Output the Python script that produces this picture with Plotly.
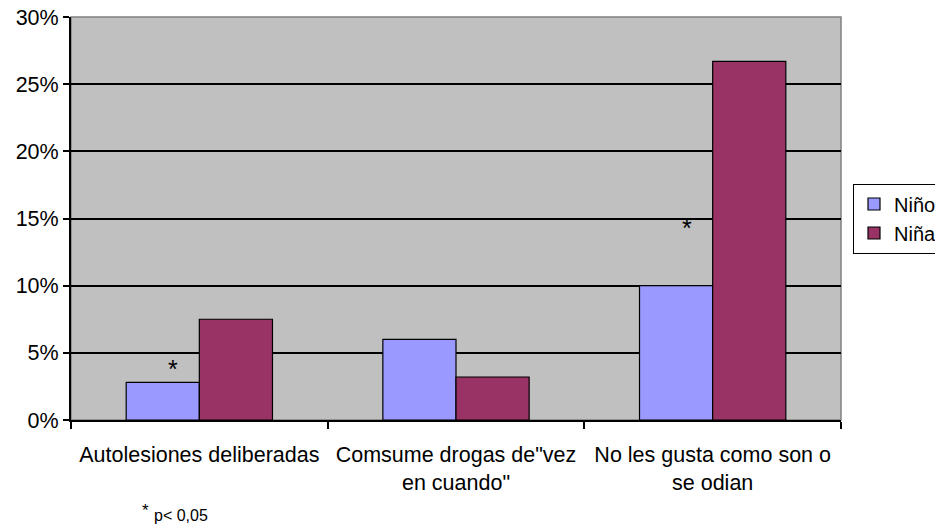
import plotly.graph_objects as go

categories = ["Autolesiones deliberadas", "Comsume drogas de\"vez<br>en cuando\"", "No les gusta como son o<br>se odian"]
nino = [2.8, 6.0, 10.0]
nina = [7.5, 3.2, 26.7]
series_names = ["Niño", "Niña"]
star_y = [3.8, None, 14.3]

FONT = "Liberation Sans, Arial, sans-serif"
L, R, T, B = 71, 94, 17, 104
PW, PH = 935 - L - R, 524 - T - B

fig = go.Figure()
fig.add_trace(go.Bar(x=categories, y=nino, name=series_names[0],
                     marker=dict(color="#9999FF", line=dict(color="black", width=1.2))))
fig.add_trace(go.Bar(x=categories, y=nina, name=series_names[1],
                     marker=dict(color="#993366", line=dict(color="black", width=1.2))))

for c, sy in zip(categories, star_y):
    if sy is not None:
        fig.add_annotation(x=c, y=sy, xref="x", yref="y", text="*", showarrow=False,
                           xshift=-26, font=dict(family=FONT, size=25, color="black"))

fig.add_annotation(x=(145 - L) / PW, y=-(510 - (524 - B)) / PH, xref="paper", yref="paper",
                   text="*", showarrow=False, xanchor="center", yanchor="middle",
                   font=dict(family=FONT, size=17, color="black"))
fig.add_annotation(x=(152 - L) / PW, y=-(515 - (524 - B)) / PH, xref="paper", yref="paper",
                   text="p< 0,05", showarrow=False, xanchor="left", yanchor="middle",
                   font=dict(family=FONT, size=16, color="black"))

fig.add_shape(type="rect", xref="paper", yref="paper", x0=0, x1=1, y0=0, y1=1,
              line=dict(color="#808080", width=1.5), layer="below")

fig.update_layout(
    width=935, height=524,
    margin=dict(l=L, r=R, t=T, b=B, autoexpand=False),
    paper_bgcolor="white", plot_bgcolor="#C0C0C0",
    barmode="group", bargap=0.43, bargroupgap=0,
    font=dict(family=FONT, size=21, color="black"),
    legend=dict(x=(853 - L) / PW, y=0.5, xanchor="left", yanchor="middle",
                bordercolor="black", borderwidth=1, bgcolor="white",
                font=dict(family=FONT, size=20, color="black"),
                tracegroupgap=0, itemwidth=30),
    showlegend=True,
)
fig.update_xaxes(showline=True, linecolor="black", linewidth=2,
                 ticks="outside", tickson="boundaries", ticklen=7, tickcolor="black", tickwidth=2,
                 showgrid=False, tickfont=dict(family=FONT, size=21.5), ticklabelstandoff=14)
fig.update_yaxes(range=[0, 30], dtick=5, ticksuffix="%", showline=True, linecolor="black", linewidth=2,
                 ticks="outside", ticklen=6, tickcolor="black", tickwidth=2,
                 showgrid=True, gridcolor="black", gridwidth=1.5, zeroline=False,
                 tickfont=dict(family=FONT, size=21.5))

fig.write_html("out.html")
